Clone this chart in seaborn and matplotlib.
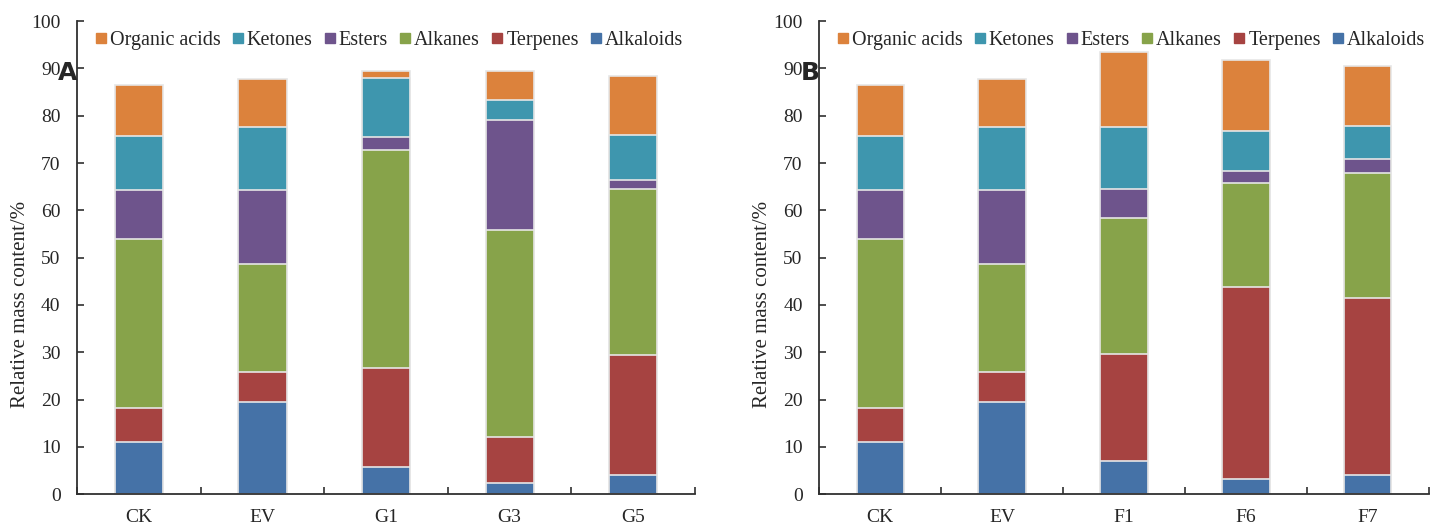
import matplotlib
matplotlib.use('Agg')
import matplotlib.pyplot as plt
from matplotlib.lines import Line2D
from matplotlib.ticker import FixedLocator
import numpy as np
import pandas as pd
import seaborn as sns

# sample groups for the two panels
groups_a = ['CK', 'EV', 'G1', 'G3', 'G5']
groups_b = ['CK', 'EV', 'F1', 'F6', 'F7']

# stacking order, bottom to top
classes = ['Alkaloids', 'Terpenes', 'Alkanes', 'Esters', 'Ketones', 'Organic acids']
legend_order = ['Organic acids', 'Ketones', 'Esters', 'Alkanes', 'Terpenes', 'Alkaloids']

# panel A values (relative mass content, %)
alkaloids_a = [11.1, 19.5, 5.8, 2.3, 4.0]
terpenes_a = [7.0, 6.4, 20.8, 9.7, 25.4]
alkanes_a = [35.8, 22.7, 46.1, 43.8, 35.2]
esters_a = [10.5, 15.7, 2.8, 23.3, 1.8]
ketones_a = [11.3, 13.4, 12.5, 4.2, 9.5]
organic_a = [10.9, 10.0, 1.4, 6.1, 12.5]

# panel B values
alkaloids_b = [11.1, 19.5, 7.0, 3.2, 4.0]
terpenes_b = [7.0, 6.4, 22.7, 40.6, 37.4]
alkanes_b = [35.8, 22.7, 28.6, 22.0, 26.5]
esters_b = [10.5, 15.7, 6.2, 2.6, 2.9]
ketones_b = [11.3, 13.4, 13.2, 8.4, 7.1]
organic_b = [10.9, 10.0, 15.7, 15.0, 12.6]

colors = {
    'Organic acids': '#DC823C',
    'Ketones': '#3E96AE',
    'Esters': '#6E548C',
    'Alkanes': '#87A34A',
    'Terpenes': '#A64341',
    'Alkaloids': '#4572A7',
}

sns.set_style('ticks')
plt.rcParams['font.family'] = ['Liberation Serif', 'DejaVu Serif']


def draw_panel(ax, groups, vals, letter):
    df = pd.DataFrame(dict(zip(classes, vals)), index=groups)
    cum = df.cumsum(axis=1)
    # cumulative totals drawn from the top class down, each covering the last
    for cls in reversed(classes):
        sns.barplot(x=groups, y=cum[cls].values, order=groups, color=colors[cls],
                    saturation=1, width=0.39, edgecolor='#e6e6e6', linewidth=1.2, ax=ax)
    ax.set_xlim(-0.5, len(groups) - 0.5)
    ax.set_ylim(0, 100)
    ax.set_yticks(np.arange(0, 101, 10))
    ax.tick_params(axis='y', labelsize=14, direction='in', length=5, width=1.2,
                   color='#303030', pad=12)
    ax.tick_params(axis='x', which='major', labelsize=14, length=0, pad=11)
    ax.xaxis.set_minor_locator(FixedLocator(np.arange(-0.5, len(groups), 1.0)))
    ax.tick_params(axis='x', which='minor', direction='in', length=5, width=1.2, color='#303030')
    for side in ['top', 'right']:
        ax.spines[side].set_visible(False)
    for side in ['left', 'bottom']:
        ax.spines[side].set_color('#303030')
        ax.spines[side].set_linewidth(1.3)
    ax.set_xlabel('')
    ax.set_ylabel('Relative mass content/%', fontsize=15)
    ax.yaxis.set_label_coords(-0.077, 0.40)
    ax.text(0.0, 89, letter, transform=ax.get_yaxis_transform(), ha='right', va='center',
            fontsize=18, fontweight='bold', family='DejaVu Sans')
    handles = [Line2D([0], [0], marker='s', linestyle='', markersize=6.5,
                      markerfacecolor=colors[c], markeredgecolor=colors[c]) for c in legend_order]
    ax.legend(handles, legend_order, loc='upper left', bbox_to_anchor=(0.012, 0.997), ncol=6,
              frameon=False, fontsize=14.5, handletextpad=0.05, columnspacing=0.45,
              handlelength=0.8, borderaxespad=0)


fig = plt.figure(figsize=(14.3, 5.29), dpi=100)
ax1 = fig.add_axes([0.054, 0.066, 0.432, 0.894])
ax2 = fig.add_axes([0.573, 0.066, 0.426, 0.894])

draw_panel(ax1, groups_a, [alkaloids_a, terpenes_a, alkanes_a, esters_a, ketones_a, organic_a], 'A')
draw_panel(ax2, groups_b, [alkaloids_b, terpenes_b, alkanes_b, esters_b, ketones_b, organic_b], 'B')

fig.savefig('out.png', dpi=100)
